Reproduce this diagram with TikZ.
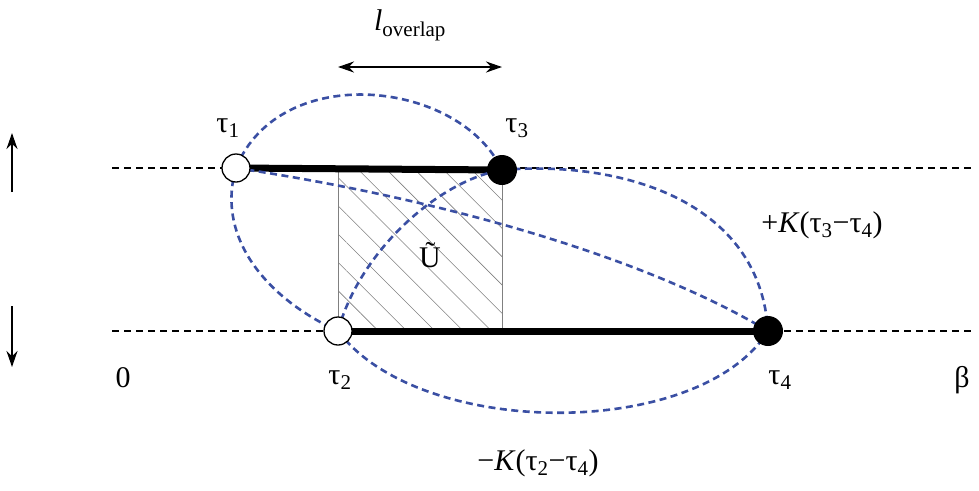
\documentclass[tikz,border=0pt]{standalone}
\usepackage{fontspec}
\setmainfont{Liberation Serif}
\usetikzlibrary{arrows.meta,patterns.meta}
\definecolor{bl}{HTML}{3A4FA3}
\begin{document}
\begin{tikzpicture}[x=1pt,y=-1pt,
  hline/.style={line width=2pt,dash pattern=on 7pt off 5pt},
  bdash/.style={bl,line width=2.6pt,dash pattern=on 7pt off 4.5pt},
  thick line/.style={line width=7pt},
  open/.style={circle,draw,fill=white,line width=1.3pt,minimum size=28pt,inner sep=0pt},
  full/.style={circle,fill=black,minimum size=30pt,inner sep=0pt},
  lab/.style={font=\fontsize{30}{32}\selectfont},
  arr/.style={-{Stealth[length=16pt,width=11pt]},line width=2.2pt}]
\useasboundingbox (0,0) rectangle (979,490);
\coordinate (a1) at (112,168); \coordinate (a2) at (975,168);
\coordinate (b1) at (112,331); \coordinate (b2) at (975,331);
\draw[hline] (a1) -- (a2);
\draw[hline] (b1) -- (b2);
\fill[pattern={Lines[angle=-45,distance=20pt,line width=0.6pt]},pattern color=gray] (338,168) rectangle (502,331);
\draw[gray,line width=0.8pt] (338,168) rectangle (502,331);
\coordinate (t1) at (236,168); \coordinate (t3) at (502,170);
\coordinate (t2) at (338,331); \coordinate (t4) at (768,331);
\draw[thick line] (t1) -- (t3);
\draw[thick line] (t2) -- (t4);
\draw[bdash] (t1) .. controls (280,60) and (460,80) .. (t3);
\draw[bdash] (t1) .. controls (215,240) and (270,300) .. (t2);
\draw[bdash] (t1) .. controls (450,200) and (650,260) .. (t4);
\draw[bdash] (t2) .. controls (360,250) and (440,180) .. (t3);
\draw[bdash] (t3) .. controls (620,160) and (760,200) .. (t4);
\draw[bdash] (t2) .. controls (420,440) and (700,440) .. (t4);
\node[open] (n1) at (t1) {};
\node[full] (n3) at (t3) {};
\node[open] (n2) at (t2) {};
\node[full] (n4) at (t4) {};
\node[lab] (l1) at (228,128) {τ\textsubscript{1}};
\node[lab] (l3) at (517,128) {τ\textsubscript{3}};
\node[lab] (l2) at (340,380) {τ\textsubscript{2}};
\node[lab] (l4) at (780,380) {τ\textsubscript{4}};
\node[lab] (z) at (123,378) {0};
\node[lab] (be) at (962,380) {β};
\node[lab] (u) at (430,255) {\~U};
\node[lab] (kp) at (822,225) {+\textit{K}(τ\textsubscript{3}−τ\textsubscript{4})};
\node[lab] (km) at (538,463) {−\textit{K}(τ\textsubscript{2}−τ\textsubscript{4})};
\node[lab] (lo) at (410,25) {\textit{l}\textsubscript{overlap}};
\coordinate (o1) at (338,67); \coordinate (o2) at (502,67);
\draw[{Stealth[length=16pt,width=11pt]}-{Stealth[length=16pt,width=11pt]},line width=2.2pt] (o1) -- (o2);
\coordinate (u1) at (12,192); \coordinate (u2) at (12,133);
\coordinate (d1) at (12,306); \coordinate (d2) at (12,367);
\draw[arr] (u1) -- (u2);
\draw[arr] (d1) -- (d2);
\end{tikzpicture}
\end{document}
